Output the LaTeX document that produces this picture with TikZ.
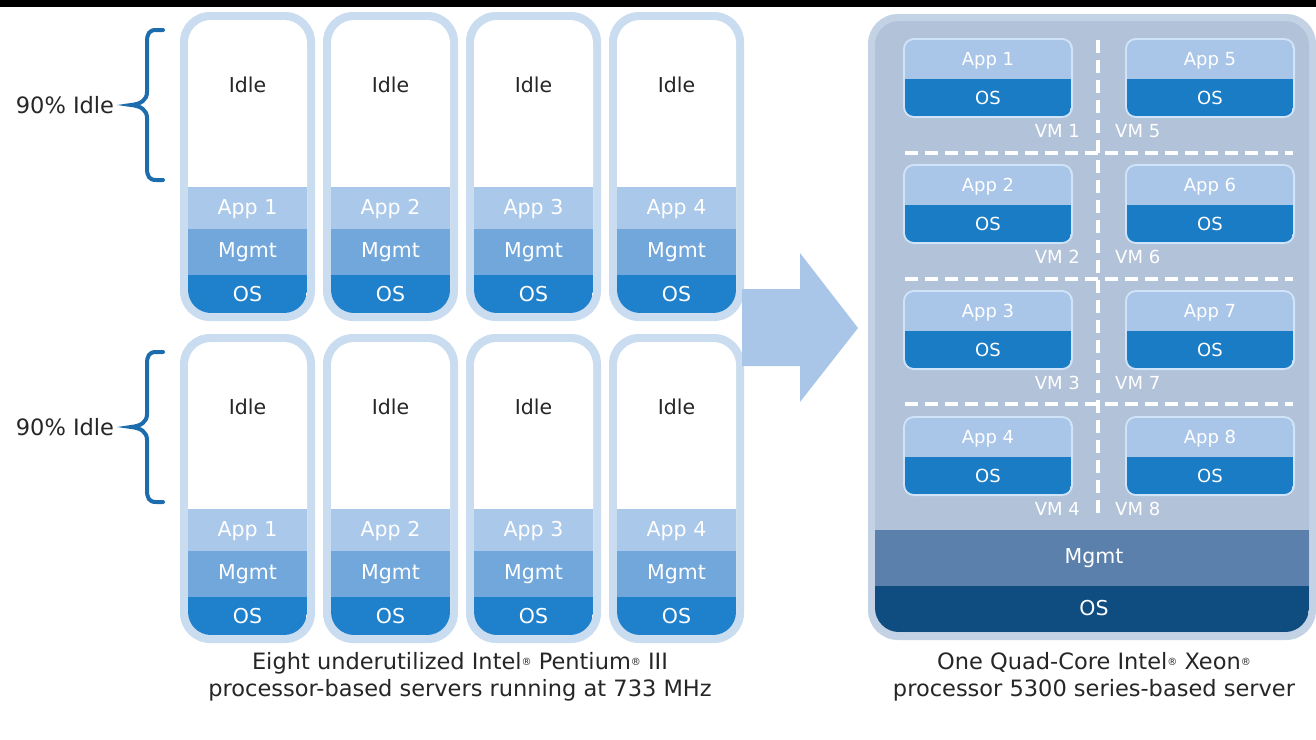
\documentclass[tikz,border=0pt]{standalone}
\usepackage{fontspec}
\setmainfont{DejaVu Sans}
\definecolor{ringc}{HTML}{C9DCF0}
\definecolor{appc}{HTML}{AAC8EA}
\definecolor{mgmtc}{HTML}{72A7DC}
\definecolor{osc}{HTML}{1F80CC}
\definecolor{bracec}{HTML}{1C6CAE}
\definecolor{arrowc}{HTML}{A9C6E8}
\definecolor{srvborder}{HTML}{C3D2E4}
\definecolor{srvfill}{HTML}{B2C2D8}
\definecolor{vmapp}{HTML}{A9C6E9}
\definecolor{vmos}{HTML}{1B7CC6}
\definecolor{vmborder}{HTML}{CFE4F8}
\definecolor{bigmgmt}{HTML}{5A80AB}
\definecolor{bigos}{HTML}{0F4D80}
\definecolor{txt}{HTML}{262626}
\newcommand{\reg}{{\fontsize{10}{10}\selectfont\raisebox{0.8ex}{®}}}
\begin{document}
\begin{tikzpicture}[x=1pt,y=-1pt,
  lbl/.style={inner sep=0pt, font=\fontsize{20.5}{24}\selectfont},
  darklbl/.style={lbl, text=txt},
  whitelbl/.style={lbl, text=white},
  vmlbl/.style={inner sep=0pt, font=\fontsize{18}{22}\selectfont, text=white},
  caption/.style={inner sep=0pt, align=center, text=txt, font=\fontsize{22.5}{27}\selectfont},
  bracestyle/.style={draw=bracec, line width=4pt, line cap=round},
  sep/.style={draw=white, line width=3.5pt, dash pattern=on 13pt off 7pt}]
\useasboundingbox (0,0) rectangle (1316,739);
\fill[black] (0,0) rectangle (1316,7);

% ---------- left: eight servers ----------
\foreach \r/\oy in {0/0, 1/322} {
  \foreach \c in {0,...,3} {
    \pgfmathsetmacro{\x}{180+143*\c}
    \pgfmathtruncatemacro{\n}{\c+1}
    \fill[ringc, rounded corners=30] (\x,12+\oy) rectangle ++(135,309);
    \fill[white, rounded corners=23] (\x+8,20+\oy) rectangle ++(119,293);
    \begin{scope}
      \clip[rounded corners=23] (\x+8,20+\oy) rectangle ++(119,293);
      \fill[appc] (\x+8,187+\oy) rectangle ++(119,42);
      \fill[mgmtc] (\x+8,229+\oy) rectangle ++(119,46);
      \fill[osc] (\x+8,275+\oy) rectangle ++(119,38);
    \end{scope}
    \node[darklbl] (idle\r\c) at (\x+67.5,85+\oy) {Idle};
    \node[whitelbl] (app\r\c) at (\x+67.5,209+\oy) {App \n};
    \node[whitelbl] (mgmt\r\c) at (\x+67.5,252+\oy) {Mgmt};
    \node[whitelbl] (os\r\c) at (\x+67.5,294+\oy) {OS};
  }
}

% ---------- braces ----------
\foreach \r/\oy in {0/0, 1/322} {
  \draw[bracestyle] (163,30+\oy) -- (156,30+\oy)
     .. controls (149,30+\oy) and (147,34+\oy) .. (147,42+\oy) -- (147,92+\oy)
     .. controls (147,100+\oy) and (141,104+\oy) .. (131,105+\oy)
     .. controls (141,106+\oy) and (147,110+\oy) .. (147,118+\oy) -- (147,168+\oy)
     .. controls (147,176+\oy) and (149,180+\oy) .. (156,180+\oy) -- (163,180+\oy);
  \node[darklbl, font=\fontsize{22.5}{24}\selectfont] (idlepct\r) at (65,105+\oy) {90\% Idle};
}

% ---------- arrow ----------
\fill[arrowc] (742,289) -- (800,289) -- (800,253) -- (858,328) -- (800,402) -- (800,366) -- (742,366) -- cycle;

% ---------- right: one server ----------
\fill[srvborder, rounded corners=30] (868,14) rectangle (1316,640);
\fill[srvfill, rounded corners=24] (875,21) rectangle (1309,632);
\begin{scope}
  \clip[rounded corners=24] (875,21) rectangle (1309,632);
  \fill[bigmgmt] (875,530) rectangle (1309,586);
  \fill[bigos] (875,586) rectangle (1309,632);
\end{scope}
\node[whitelbl] (bigmgmtl) at (1094,558) {Mgmt};
\node[whitelbl] (bigosl) at (1094,608) {OS};

\foreach \col/\vx/\lx/\anc/\base in {0/905/1080/east/1, 1/1127/1115/west/5} {
  \foreach \row in {0,...,3} {
    \pgfmathsetmacro{\vy}{40+126*\row}
    \pgfmathtruncatemacro{\n}{\base+\row}
    \fill[vmborder, rounded corners=11] (\vx-2,\vy-2) rectangle ++(170,80);
    \begin{scope}
      \clip[rounded corners=9] (\vx,\vy) rectangle ++(166,76);
      \fill[vmapp] (\vx,\vy) rectangle ++(166,39);
      \fill[vmos] (\vx,\vy+39) rectangle ++(166,37);
    \end{scope}
    \node[vmlbl] (vmapp\n) at (\vx+83,\vy+21) {App \n};
    \node[vmlbl] (vmos\n) at (\vx+83,\vy+58) {OS};
    \node[vmlbl, anchor=\anc] (vm\n) at (\lx,\vy+91) {VM \n};
  }
}
\draw[sep] (905,153) -- (1293,153);
\draw[sep] (905,279) -- (1293,279);
\draw[sep] (905,404) -- (1293,404);
\draw[sep] (1098,40) -- (1098,515);

% ---------- captions ----------
\node[caption] (capL) at (460,677) {Eight underutilized Intel\reg{} Pentium\reg{} III\\processor-based servers running at 733 MHz};
\node[caption] (capR) at (1094,677) {One Quad-Core Intel\reg{} Xeon\reg\\processor 5300 series-based server};
\end{tikzpicture}
\end{document}
